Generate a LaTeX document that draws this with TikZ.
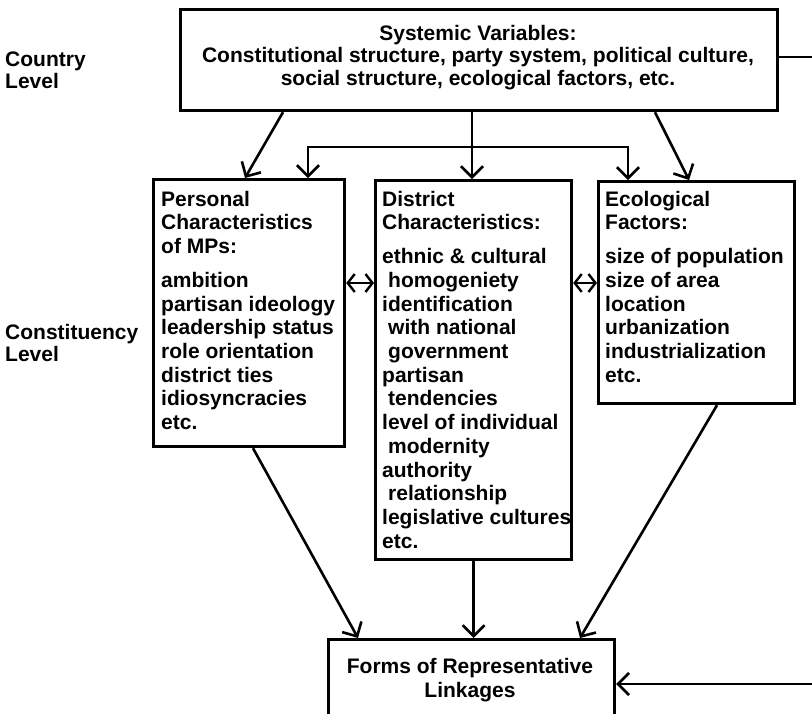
\documentclass[tikz,border=0pt]{standalone}
\usepackage{fontspec}
\setmainfont{Liberation Sans}
\usetikzlibrary{arrows.meta,calc}
\tikzset{
  box/.style={draw, line width=3.2pt, inner sep=0pt, anchor=north west},
  txt/.style={inner sep=0pt, anchor=base west},
  arr/.style={line width=2.6pt, -{Straight Barb[length=11pt,width=22pt]}},
  biarr/.style={line width=2.4pt, {Straight Barb[length=7pt,width=18pt]}-{Straight Barb[length=7pt,width=18pt]}},
  every node/.style={font=\fontsize{21}{23.7}\selectfont\bfseries}
}
\begin{document}
\begin{tikzpicture}[x=1pt,y=-1pt]
\useasboundingbox (0,0) rectangle (812,713);
\clip (0,0) rectangle (812,713);
% boxes
\node[box, minimum width=597pt, minimum height=101pt] (sys) at (179,8) {};
\node[box, minimum width=191pt, minimum height=267pt] (pers) at (152,178) {};
\node[box, minimum width=196pt, minimum height=379pt] (dist) at (374,179) {};
\node[box, minimum width=196pt, minimum height=222pt] (eco) at (597,180) {};
\node[box, minimum width=286pt, minimum height=110pt] (rep) at (327,638) {};
% texts
\node[inner sep=0pt, anchor=base] (systxt) at (478,40) {\parbox[t]{597pt}{\centering\fontsize{21}{22.5}\selectfont
Systemic Variables:\\
Constitutional structure, party system, political culture,\\
social structure, ecological factors, etc.}};
\node[txt] (country) at (5,66) {\parbox[t]{130pt}{\fontsize{21}{22}\selectfont Country\\Level}};
\node[txt] (constit) at (5,339) {\parbox[t]{140pt}{\fontsize{21}{22}\selectfont Constituency\\Level}};
\node[txt] (perstxt) at (161,206) {\parbox[t]{200pt}{\raggedright
Personal\\Characteristics\\of MPs:\\[10.3pt]
ambition\\partisan ideology\\leadership status\\role orientation\\district ties\\idiosyncracies\\etc.}};
\node[txt] (disttxt) at (382,206) {\parbox[t]{210pt}{\raggedright
District\\Characteristics:\\[10.3pt]
ethnic \& cultural\\\hspace*{6pt}homogeniety\\identification\\\hspace*{6pt}with national\\\hspace*{6pt}government\\partisan\\\hspace*{6pt}tendencies\\level of individual\\\hspace*{6pt}modernity\\authority\\\hspace*{6pt}relationship\\legislative cultures\\etc.}};
\node[txt] (ecotxt) at (605,206) {\parbox[t]{210pt}{\raggedright
Ecological\\Factors:\\[10.3pt]
size of population\\size of area\\location\\urbanization\\industrialization\\etc.}};
\node[inner sep=0pt, anchor=base] (reptxt) at (470,673) {\parbox[t]{286pt}{\centering\fontsize{21}{24.5}\selectfont
Forms of Representative\\Linkages}};
% connectors from systemic box
\draw[arr] ($(sys.south west)+(104,0)$) -- ($(pers.north west)+(93,0)$);
\draw[arr] ($(sys.south west)+(293,0)$) -- ($(dist.north west)+(98,0)$);
\draw[arr] ($(sys.south west)+(476,0)$) -- ($(eco.north west)+(92,0)$);
\coordinate (jn) at (472,147);
\draw[arr] (jn) -| ($(pers.north west)+(156,0)$);
\draw[arr] (jn) -| ($(eco.north west)+(31,0)$);
% bidirectional
\draw[biarr] ($(pers.north east)+(0,105)$) -- ($(dist.north west)+(0,104)$);
\draw[biarr] ($(dist.north east)+(0,104)$) -- ($(eco.north west)+(0,103)$);
% to representative linkages
\draw[arr] ($(pers.south west)+(101,0)$) -- ($(rep.north west)+(31,0)$);
\draw[arr] (dist.south) -- (dist.south |- rep.north);
\draw[arr] ($(eco.south west)+(120,0)$) -- ($(rep.north west)+(253,0)$);
% feedback line
\coordinate (fbA) at (830,57);
\coordinate (fbB) at (830,684);
\draw[arr] ($(sys.north east)+(0,49)$) -- (fbA) -- (fbB) -- (fbB -| rep.east);
\end{tikzpicture}
\end{document}
